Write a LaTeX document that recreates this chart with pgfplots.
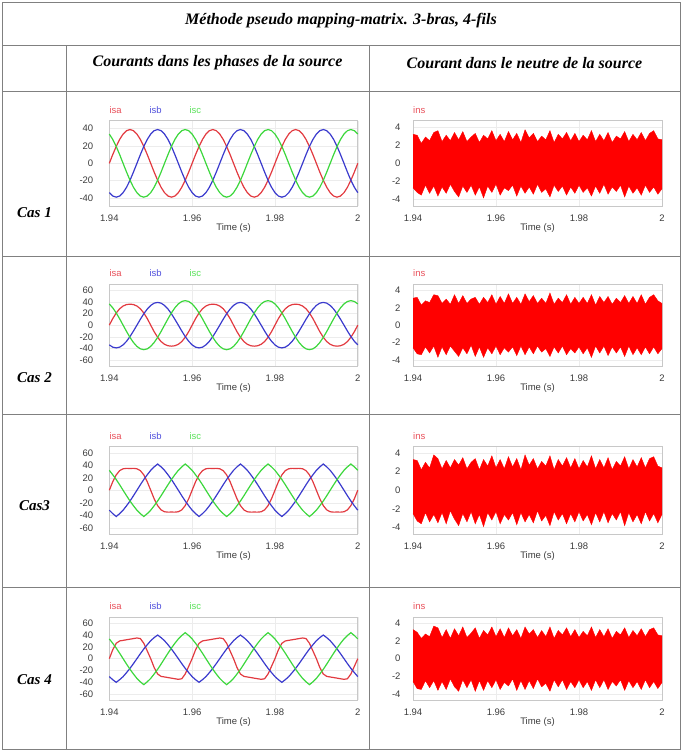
\documentclass[border=0pt]{standalone}
\usepackage{fontspec}
\setmainfont{Liberation Sans}
\newfontfamily\tnr{Liberation Serif}
\usepackage{pgfplots}
\pgfplotsset{compat=1.18}
\usepackage{pgfplotstable}
\usepgfplotslibrary{fillbetween}

\definecolor{ca}{RGB}{226,58,64}
\definecolor{cb}{RGB}{58,58,205}
\definecolor{cc}{RGB}{60,215,60}
\definecolor{la}{RGB}{232,80,90}
\definecolor{lb}{RGB}{80,80,220}
\definecolor{lc}{RGB}{90,225,90}
\definecolor{ticktxt}{RGB}{60,60,60}
\definecolor{framec}{RGB}{128,128,128}
\definecolor{boxc}{RGB}{200,200,200}
\definecolor{gridc}{RGB}{236,236,236}

% phase currents, case 1 (t, isa, isb, isc)
\pgfplotstableread{
t a b c
1.94000 0 -33.8 33.8
1.94083 10.1 -37.7 27.6
1.94167 19.5 -39 19.5
1.94250 27.6 -37.7 10.1
1.94333 33.8 -33.8 0
1.94417 37.7 -27.6 -10.1
1.94500 39 -19.5 -19.5
1.94583 37.7 -10.1 -27.6
1.94667 33.8 0 -33.8
1.94750 27.6 10.1 -37.7
1.94833 19.5 19.5 -39
1.94917 10.1 27.6 -37.7
1.95000 0 33.8 -33.8
1.95083 -10.1 37.7 -27.6
1.95167 -19.5 39 -19.5
1.95250 -27.6 37.7 -10.1
1.95333 -33.8 33.8 0
1.95417 -37.7 27.6 10.1
1.95500 -39 19.5 19.5
1.95583 -37.7 10.1 27.6
1.95667 -33.8 0 33.8
1.95750 -27.6 -10.1 37.7
1.95833 -19.5 -19.5 39
1.95917 -10.1 -27.6 37.7
1.96000 0 -33.8 33.8
1.96083 10.1 -37.7 27.6
1.96167 19.5 -39 19.5
1.96250 27.6 -37.7 10.1
1.96333 33.8 -33.8 0
1.96417 37.7 -27.6 -10.1
1.96500 39 -19.5 -19.5
1.96583 37.7 -10.1 -27.6
1.96667 33.8 0 -33.8
1.96750 27.6 10.1 -37.7
1.96833 19.5 19.5 -39
1.96917 10.1 27.6 -37.7
1.97000 0 33.8 -33.8
1.97083 -10.1 37.7 -27.6
1.97167 -19.5 39 -19.5
1.97250 -27.6 37.7 -10.1
1.97333 -33.8 33.8 0
1.97417 -37.7 27.6 10.1
1.97500 -39 19.5 19.5
1.97583 -37.7 10.1 27.6
1.97667 -33.8 0 33.8
1.97750 -27.6 -10.1 37.7
1.97833 -19.5 -19.5 39
1.97917 -10.1 -27.6 37.7
1.98000 0 -33.8 33.8
1.98083 10.1 -37.7 27.6
1.98167 19.5 -39 19.5
1.98250 27.6 -37.7 10.1
1.98333 33.8 -33.8 0
1.98417 37.7 -27.6 -10.1
1.98500 39 -19.5 -19.5
1.98583 37.7 -10.1 -27.6
1.98667 33.8 0 -33.8
1.98750 27.6 10.1 -37.7
1.98833 19.5 19.5 -39
1.98917 10.1 27.6 -37.7
1.99000 0 33.8 -33.8
1.99083 -10.1 37.7 -27.6
1.99167 -19.5 39 -19.5
1.99250 -27.6 37.7 -10.1
1.99333 -33.8 33.8 0
1.99417 -37.7 27.6 10.1
1.99500 -39 19.5 19.5
1.99583 -37.7 10.1 27.6
1.99667 -33.8 0 33.8
1.99750 -27.6 -10.1 37.7
1.99833 -19.5 -19.5 39
1.99917 -10.1 -27.6 37.7
2.00000 0 -33.8 33.8
}\phA

% phase currents, case 2
\pgfplotstableread{
t a b c
1.94000 0 -33.8 36.4
1.94083 11.2 -37.7 29.7
1.94167 20.8 -39 21
1.94250 28.1 -37.7 10.9
1.94333 32.8 -33.8 0
1.94417 35.3 -27.6 -10.9
1.94500 36 -19.5 -21
1.94583 35.3 -10.1 -29.7
1.94667 32.8 0 -36.4
1.94750 28.1 10.1 -40.6
1.94833 20.8 19.5 -42
1.94917 11.2 27.6 -40.6
1.95000 0 33.8 -36.4
1.95083 -11.2 37.7 -29.7
1.95167 -20.8 39 -21
1.95250 -28.1 37.7 -10.9
1.95333 -32.8 33.8 0
1.95417 -35.3 27.6 10.9
1.95500 -36 19.5 21
1.95583 -35.3 10.1 29.7
1.95667 -32.8 0 36.4
1.95750 -28.1 -10.1 40.6
1.95833 -20.8 -19.5 42
1.95917 -11.2 -27.6 40.6
1.96000 0 -33.8 36.4
1.96083 11.2 -37.7 29.7
1.96167 20.8 -39 21
1.96250 28.1 -37.7 10.9
1.96333 32.8 -33.8 0
1.96417 35.3 -27.6 -10.9
1.96500 36 -19.5 -21
1.96583 35.3 -10.1 -29.7
1.96667 32.8 0 -36.4
1.96750 28.1 10.1 -40.6
1.96833 20.8 19.5 -42
1.96917 11.2 27.6 -40.6
1.97000 0 33.8 -36.4
1.97083 -11.2 37.7 -29.7
1.97167 -20.8 39 -21
1.97250 -28.1 37.7 -10.9
1.97333 -32.8 33.8 0
1.97417 -35.3 27.6 10.9
1.97500 -36 19.5 21
1.97583 -35.3 10.1 29.7
1.97667 -32.8 0 36.4
1.97750 -28.1 -10.1 40.6
1.97833 -20.8 -19.5 42
1.97917 -11.2 -27.6 40.6
1.98000 0 -33.8 36.4
1.98083 11.2 -37.7 29.7
1.98167 20.8 -39 21
1.98250 28.1 -37.7 10.9
1.98333 32.8 -33.8 0
1.98417 35.3 -27.6 -10.9
1.98500 36 -19.5 -21
1.98583 35.3 -10.1 -29.7
1.98667 32.8 0 -36.4
1.98750 28.1 10.1 -40.6
1.98833 20.8 19.5 -42
1.98917 11.2 27.6 -40.6
1.99000 0 33.8 -36.4
1.99083 -11.2 37.7 -29.7
1.99167 -20.8 39 -21
1.99250 -28.1 37.7 -10.9
1.99333 -32.8 33.8 0
1.99417 -35.3 27.6 10.9
1.99500 -36 19.5 21
1.99583 -35.3 10.1 29.7
1.99667 -32.8 0 36.4
1.99750 -28.1 -10.1 40.6
1.99833 -20.8 -19.5 42
1.99917 -11.2 -27.6 40.6
2.00000 0 -33.8 36.4
}\phB

% phase currents, case 3
\pgfplotstableread{
t a b c
1.94000 0 -31.9 31.9
1.94083 13.6 -37.4 24.8
1.94167 24.6 -42 17.2
1.94250 31.4 -37.4 8.8
1.94333 34.4 -31.9 0
1.94417 35.0 -24.8 -8.8
1.94500 34.9 -17.2 -17.2
1.94583 35.0 -8.8 -24.8
1.94667 34.4 0 -31.9
1.94750 31.4 8.8 -37.4
1.94833 24.6 17.2 -42
1.94917 13.6 24.8 -37.4
1.95000 0 31.9 -31.9
1.95083 -13.6 37.4 -24.8
1.95167 -24.6 42 -17.2
1.95250 -31.4 37.4 -8.8
1.95333 -34.4 31.9 0
1.95417 -35.0 24.8 8.8
1.95500 -34.9 17.2 17.2
1.95583 -35.0 8.8 24.8
1.95667 -34.4 0 31.9
1.95750 -31.4 -8.8 37.4
1.95833 -24.6 -17.2 42
1.95917 -13.6 -24.8 37.4
1.96000 0 -31.9 31.9
1.96083 13.6 -37.4 24.8
1.96167 24.6 -42 17.2
1.96250 31.4 -37.4 8.8
1.96333 34.4 -31.9 0
1.96417 35.0 -24.8 -8.8
1.96500 34.9 -17.2 -17.2
1.96583 35.0 -8.8 -24.8
1.96667 34.4 0 -31.9
1.96750 31.4 8.8 -37.4
1.96833 24.6 17.2 -42
1.96917 13.6 24.8 -37.4
1.97000 0 31.9 -31.9
1.97083 -13.6 37.4 -24.8
1.97167 -24.6 42 -17.2
1.97250 -31.4 37.4 -8.8
1.97333 -34.4 31.9 0
1.97417 -35.0 24.8 8.8
1.97500 -34.9 17.2 17.2
1.97583 -35.0 8.8 24.8
1.97667 -34.4 0 31.9
1.97750 -31.4 -8.8 37.4
1.97833 -24.6 -17.2 42
1.97917 -13.6 -24.8 37.4
1.98000 0 -31.9 31.9
1.98083 13.6 -37.4 24.8
1.98167 24.6 -42 17.2
1.98250 31.4 -37.4 8.8
1.98333 34.4 -31.9 0
1.98417 35.0 -24.8 -8.8
1.98500 34.9 -17.2 -17.2
1.98583 35.0 -8.8 -24.8
1.98667 34.4 0 -31.9
1.98750 31.4 8.8 -37.4
1.98833 24.6 17.2 -42
1.98917 13.6 24.8 -37.4
1.99000 0 31.9 -31.9
1.99083 -13.6 37.4 -24.8
1.99167 -24.6 42 -17.2
1.99250 -31.4 37.4 -8.8
1.99333 -34.4 31.9 0
1.99417 -35.0 24.8 8.8
1.99500 -34.9 17.2 17.2
1.99583 -35.0 8.8 24.8
1.99667 -34.4 0 31.9
1.99750 -31.4 -8.8 37.4
1.99833 -24.6 -17.2 42
1.99917 -13.6 -24.8 37.4
2.00000 0 -31.9 31.9
}\phC

% phase currents, case 4
\pgfplotstableread{
t a b c
1.94000 0 -30.4 33.4
1.94083 15 -35.6 26
1.94167 26 -40 18
1.94250 30 -35.6 9.2
1.94333 31 -30.4 0
1.94417 32 -23.6 -9.2
1.94500 33 -16.4 -18
1.94583 34 -8.4 -26
1.94667 35 0 -33.4
1.94750 34 8.4 -39.2
1.94833 26 16.4 -44
1.94917 13 23.6 -39.2
1.95000 0 30.4 -33.4
1.95083 -15 35.6 -26
1.95167 -26 40 -18
1.95250 -30 35.6 -9.2
1.95333 -31 30.4 0
1.95417 -32 23.6 9.2
1.95500 -33 16.4 18
1.95583 -34 8.4 26
1.95667 -35 0 33.4
1.95750 -34 -8.4 39.2
1.95833 -26 -16.4 44
1.95917 -13 -23.6 39.2
1.96000 0 -30.4 33.4
1.96083 15 -35.6 26
1.96167 26 -40 18
1.96250 30 -35.6 9.2
1.96333 31 -30.4 0
1.96417 32 -23.6 -9.2
1.96500 33 -16.4 -18
1.96583 34 -8.4 -26
1.96667 35 0 -33.4
1.96750 34 8.4 -39.2
1.96833 26 16.4 -44
1.96917 13 23.6 -39.2
1.97000 0 30.4 -33.4
1.97083 -15 35.6 -26
1.97167 -26 40 -18
1.97250 -30 35.6 -9.2
1.97333 -31 30.4 0
1.97417 -32 23.6 9.2
1.97500 -33 16.4 18
1.97583 -34 8.4 26
1.97667 -35 0 33.4
1.97750 -34 -8.4 39.2
1.97833 -26 -16.4 44
1.97917 -13 -23.6 39.2
1.98000 0 -30.4 33.4
1.98083 15 -35.6 26
1.98167 26 -40 18
1.98250 30 -35.6 9.2
1.98333 31 -30.4 0
1.98417 32 -23.6 -9.2
1.98500 33 -16.4 -18
1.98583 34 -8.4 -26
1.98667 35 0 -33.4
1.98750 34 8.4 -39.2
1.98833 26 16.4 -44
1.98917 13 23.6 -39.2
1.99000 0 30.4 -33.4
1.99083 -15 35.6 -26
1.99167 -26 40 -18
1.99250 -30 35.6 -9.2
1.99333 -31 30.4 0
1.99417 -32 23.6 9.2
1.99500 -33 16.4 18
1.99583 -34 8.4 26
1.99667 -35 0 33.4
1.99750 -34 -8.4 39.2
1.99833 -26 -16.4 44
1.99917 -13 -23.6 39.2
2.00000 0 -30.4 33.4
}\phD

% neutral current envelopes (upper, lower), cases 1 to 4
\pgfplotstableread{
t hi lo
1.940 3.2 -2.7
1.941 3.1 -3.2
1.942 2.2 -3.5
1.943 2.9 -2.4
1.944 2.5 -3.3
1.945 3.4 -2.5
1.946 3.6 -3.6
1.947 2.4 -2.6
1.948 3.1 -3.3
1.949 2.5 -2.3
1.950 3.4 -3.1
1.951 2.6 -3.7
1.952 3.5 -2.5
1.953 2.4 -3.2
1.954 2.9 -2.4
1.955 3.3 -3.5
1.956 2.3 -2.6
1.957 3.1 -3.8
1.958 2.7 -2.5
1.959 3.6 -3.2
1.960 2.5 -2.3
1.961 3.2 -3.5
1.962 2.4 -2.7
1.963 3.5 -3.0
1.964 2.6 -2.4
1.965 3.3 -3.6
1.966 2.3 -2.5
1.967 3.7 -3.3
1.968 2.8 -2.6
1.969 3.3 -3.4
1.970 2.4 -2.3
1.971 3.0 -3.2
1.972 2.6 -2.8
1.973 3.6 -3.7
1.974 2.3 -2.4
1.975 3.2 -3.1
1.976 2.7 -2.5
1.977 3.4 -3.5
1.978 2.5 -2.6
1.979 3.3 -3.3
1.980 2.4 -2.4
1.981 3.1 -3.2
1.982 2.6 -2.7
1.983 3.6 -3.6
1.984 2.4 -2.5
1.985 3.2 -3.3
1.986 2.5 -2.3
1.987 3.4 -3.4
1.988 2.3 -2.6
1.989 3.0 -3.1
1.990 2.7 -2.4
1.991 3.5 -3.7
1.992 2.4 -2.5
1.993 3.2 -3.3
1.994 2.6 -2.7
1.995 3.4 -3.5
1.996 2.5 -2.4
1.997 3.3 -3.2
1.998 3.6 -2.6
1.999 2.7 -3.4
2.000 2.6 -2.8
}\nA

\pgfplotstableread{
t hi lo
1.940 3.1 -2.6
1.941 3.2 -3.3
1.942 2.3 -3.4
1.943 2.8 -2.5
1.944 2.6 -3.2
1.945 3.5 -2.4
1.946 3.4 -3.7
1.947 2.5 -2.5
1.948 3.0 -3.4
1.949 2.4 -2.4
1.950 3.5 -3.0
1.951 2.5 -3.6
1.952 3.4 -2.6
1.953 2.5 -3.3
1.954 3.0 -2.3
1.955 3.2 -3.6
1.956 2.4 -2.5
1.957 3.2 -3.7
1.958 2.6 -2.6
1.959 3.5 -3.3
1.960 2.4 -2.4
1.961 3.3 -3.4
1.962 2.5 -2.6
1.963 3.6 -3.1
1.964 2.5 -2.5
1.965 3.2 -3.5
1.966 2.4 -2.4
1.967 3.6 -3.4
1.968 2.7 -2.5
1.969 3.4 -3.3
1.970 2.5 -2.4
1.971 3.1 -3.1
1.972 2.5 -2.7
1.973 3.7 -3.6
1.974 2.4 -2.5
1.975 3.1 -3.2
1.976 2.6 -2.4
1.977 3.5 -3.4
1.978 2.4 -2.7
1.979 3.2 -3.2
1.980 2.5 -2.5
1.981 3.2 -3.3
1.982 2.5 -2.6
1.983 3.5 -3.7
1.984 2.3 -2.4
1.985 3.3 -3.2
1.986 2.6 -2.4
1.987 3.3 -3.5
1.988 2.4 -2.5
1.989 3.1 -3.2
1.990 2.6 -2.5
1.991 3.4 -3.6
1.992 2.5 -2.4
1.993 3.3 -3.4
1.994 2.5 -2.6
1.995 3.5 -3.4
1.996 2.4 -2.5
1.997 3.2 -3.3
1.998 3.5 -2.5
1.999 2.8 -3.3
2.000 2.5 -2.7
}\nB

\pgfplotstableread{
t hi lo
1.940 3.3 -2.5
1.941 3.2 -3.3
1.942 2.2 -3.6
1.943 3.0 -2.4
1.944 2.4 -3.4
1.945 3.8 -2.6
1.946 3.4 -3.5
1.947 2.3 -2.4
1.948 3.2 -3.6
1.949 2.4 -2.2
1.950 3.3 -3.1
1.951 2.7 -3.8
1.952 3.5 -2.5
1.953 2.3 -3.4
1.954 3.0 -2.3
1.955 3.4 -3.6
1.956 2.2 -2.6
1.957 3.3 -3.9
1.958 2.6 -2.4
1.959 3.7 -3.2
1.960 2.4 -2.3
1.961 3.3 -3.6
1.962 2.3 -2.6
1.963 3.6 -3.2
1.964 2.5 -2.4
1.965 3.4 -3.7
1.966 2.2 -2.4
1.967 3.8 -3.4
1.968 2.7 -2.6
1.969 3.4 -3.5
1.970 2.3 -2.2
1.971 3.1 -3.3
1.972 2.6 -2.7
1.973 3.7 -3.8
1.974 2.2 -2.3
1.975 3.3 -3.2
1.976 2.6 -2.5
1.977 3.5 -3.6
1.978 2.4 -2.5
1.979 3.4 -3.4
1.980 2.3 -2.3
1.981 3.2 -3.3
1.982 2.5 -2.6
1.983 3.7 -3.7
1.984 2.3 -2.4
1.985 3.3 -3.4
1.986 2.4 -2.3
1.987 3.5 -3.5
1.988 2.2 -2.5
1.989 3.1 -3.2
1.990 2.6 -2.3
1.991 3.6 -3.8
1.992 2.3 -2.4
1.993 3.3 -3.4
1.994 2.5 -2.6
1.995 3.5 -3.6
1.996 2.4 -2.3
1.997 3.4 -3.3
1.998 3.6 -2.5
1.999 2.6 -3.5
2.000 2.4 -2.6
}\nC

\pgfplotstableread{
t hi lo
1.940 3.3 -2.6
1.941 3.0 -3.4
1.942 2.3 -3.5
1.943 2.8 -2.5
1.944 2.5 -3.3
1.945 3.7 -2.5
1.946 3.5 -3.6
1.947 2.4 -2.6
1.948 3.3 -3.5
1.949 2.3 -2.3
1.950 3.4 -3.2
1.951 2.6 -3.7
1.952 3.6 -2.4
1.953 2.4 -3.3
1.954 2.9 -2.4
1.955 3.5 -3.7
1.956 2.3 -2.5
1.957 3.2 -3.6
1.958 2.7 -2.5
1.959 3.6 -3.3
1.960 2.5 -2.4
1.961 3.4 -3.5
1.962 2.4 -2.7
1.963 3.5 -3.1
1.964 2.6 -2.3
1.965 3.3 -3.6
1.966 2.3 -2.5
1.967 3.6 -3.5
1.968 2.8 -2.5
1.969 3.3 -3.4
1.970 2.4 -2.3
1.971 3.2 -3.2
1.972 2.5 -2.8
1.973 3.6 -3.7
1.974 2.3 -2.4
1.975 3.2 -3.2
1.976 2.7 -2.4
1.977 3.5 -3.5
1.978 2.5 -2.6
1.979 3.3 -3.3
1.980 2.4 -2.4
1.981 3.1 -3.3
1.982 2.6 -2.6
1.983 3.6 -3.6
1.984 2.4 -2.4
1.985 3.3 -3.3
1.986 2.5 -2.4
1.987 3.4 -3.5
1.988 2.3 -2.6
1.989 3.1 -3.1
1.990 2.7 -2.4
1.991 3.5 -3.6
1.992 2.4 -2.5
1.993 3.2 -3.3
1.994 2.6 -2.6
1.995 3.4 -3.5
1.996 2.5 -2.4
1.997 3.3 -3.3
1.998 3.5 -2.6
1.999 2.7 -3.4
2.000 2.6 -2.7
}\nD

\pgfplotsset{
  psim/.style={
    scale only axis,
    xmin=1.94, xmax=2,
    xtick={1.94,1.96,1.98,2}, xticklabels={1.94,1.96,1.98,2},
    major tick length=0pt,
    axis line style={boxc, line width=0.8pt},
    grid=major, major grid style={gridc, line width=0.5pt},
    tick label style={font=\fontsize{9.5}{11}\selectfont, text=ticktxt},
    xticklabel style={yshift=-5pt},
    xlabel={Time (s)},
    xlabel style={font=\fontsize{9.5}{11}\selectfont, text=ticktxt,
      at={(axis description cs:0.5,0)}, anchor=center, yshift=-22.3pt},
    clip=false,
  },
  phase40/.style={psim, width=248.5pt, ymin=-49.2, ymax=49.2,
    ytick={-40,-20,0,20,40}, yticklabels={-40,-20,0,20,40},
    yticklabel style={xshift=-12.5pt}},
  phase60/.style={psim, width=248.5pt, ymin=-70, ymax=70,
    ytick={-60,-40,-20,0,20,40,60}, yticklabels={-60,-40,-20,0,20,40,60},
    yticklabel style={xshift=-12.5pt}},
  neut/.style={psim, width=249pt, ymin=-4.7, ymax=4.7,
    ytick={-4,-2,0,2,4}, yticklabels={-4,-2,0,2,4},
    yticklabel style={xshift=-9pt}},
}
\tikzset{lbl/.style={anchor=base west, inner sep=0pt, yshift=7.5pt,
  font=\fontsize{9.5}{11}\selectfont}}

\newcommand\phaseplots[1]{%
  \addplot[ca, line width=1.2pt] table[x=t,y=a]{#1};
  \addplot[cb, line width=1.2pt] table[x=t,y=b]{#1};
  \addplot[cc, line width=1.2pt] table[x=t,y=c]{#1};
  \node[lbl, text=la] at (rel axis cs:0,1) {isa};
  \node[lbl, text=lb, xshift=40pt] at (rel axis cs:0,1) {isb};
  \node[lbl, text=lc, xshift=80pt] at (rel axis cs:0,1) {isc};
}
\newcommand\neutralplot[1]{%
  \addplot[name path=H, draw=red, line width=0.4pt] table[x=t,y=hi]{#1};
  \addplot[name path=L, draw=red, line width=0.4pt] table[x=t,y=lo]{#1};
  \addplot[fill=red, draw=none] fill between[of=H and L];
  \node[lbl, text=la] at (rel axis cs:0,1) {ins};
}

\begin{document}
\begin{tikzpicture}
\path (0pt,0pt) rectangle (685pt,-755pt);

% table rules
\begin{scope}[draw=framec, line width=1pt]
  \draw (2pt,-2pt) rectangle (680pt,-749pt);
  \draw (2pt,-45pt) -- (680pt,-45pt);
  \draw (2pt,-91pt) -- (680pt,-91pt);
  \draw (2pt,-256pt) -- (680pt,-256pt);
  \draw (2pt,-414.5pt) -- (680pt,-414.5pt);
  \draw (2pt,-587pt) -- (680pt,-587pt);
  \draw (66pt,-45pt) -- (66pt,-749pt);
  \draw (369pt,-45pt) -- (369pt,-749pt);
\end{scope}

\node[font=\tnr\bfseries\itshape\fontsize{16}{19}\selectfont] at (341pt,-21pt)
  {Méthode pseudo mapping-matrix. 3-bras, 4-fils};
\node[font=\tnr\bfseries\itshape\fontsize{16}{19}\selectfont] at (217.5pt,-63pt)
  {Courants dans les phases de la source};
\node[font=\tnr\bfseries\itshape\fontsize{16}{19}\selectfont] at (524.5pt,-63pt)
  {Courant dans le neutre de la source};

\begin{scope}[every node/.style={font=\tnr\bfseries\itshape\fontsize{15}{18}\selectfont}]
  \node at (34.5pt,-213pt) {Cas 1};
  \node at (34.5pt,-378pt) {Cas 2};
  \node at (34.5pt,-506pt) {Cas3};
  \node at (34.5pt,-680pt) {Cas 4};
\end{scope}

% Cas 1
\begin{axis}[phase40, at={(109.3pt,-206pt)}, anchor=south west, height=85.3pt]
  \phaseplots{\phA}
\end{axis}
\begin{axis}[neut, at={(413pt,-206pt)}, anchor=south west, height=85.3pt]
  \neutralplot{\nA}
\end{axis}

% Cas 2
\begin{axis}[phase60, at={(109.3pt,-366pt)}, anchor=south west, height=81.7pt]
  \phaseplots{\phB}
\end{axis}
\begin{axis}[neut, at={(413pt,-366pt)}, anchor=south west, height=81.7pt]
  \neutralplot{\nB}
\end{axis}

% Cas 3
\begin{axis}[phase60, at={(109.3pt,-534pt)}, anchor=south west, height=87.5pt]
  \phaseplots{\phC}
\end{axis}
\begin{axis}[neut, at={(413pt,-534pt)}, anchor=south west, height=87.5pt]
  \neutralplot{\nC}
\end{axis}

% Cas 4
\begin{axis}[phase60, at={(109.3pt,-700pt)}, anchor=south west, height=82.7pt]
  \phaseplots{\phD}
\end{axis}
\begin{axis}[neut, at={(413pt,-700pt)}, anchor=south west, height=82.7pt]
  \neutralplot{\nD}
\end{axis}
\end{tikzpicture}
\end{document}
